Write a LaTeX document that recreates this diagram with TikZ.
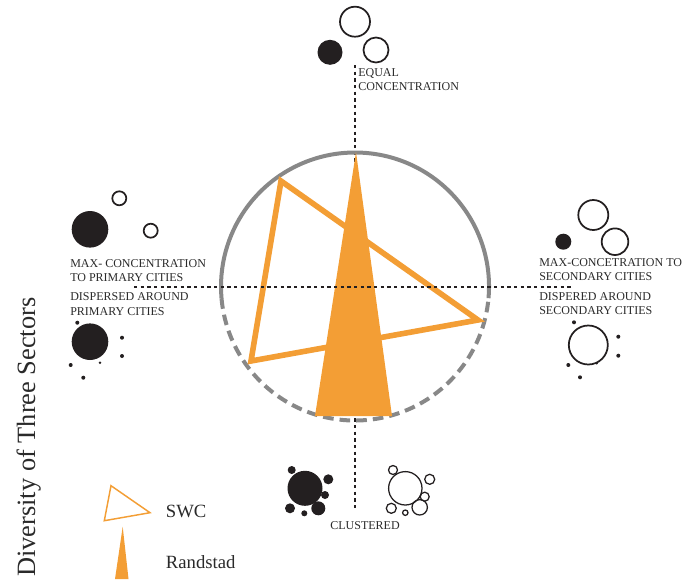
\documentclass[tikz,border=0pt]{standalone}
\usepackage{fontspec}
\setmainfont{Liberation Serif}
\definecolor{swcorange}{HTML}{F39E35}
\definecolor{ringgray}{HTML}{888888}
\definecolor{ink}{HTML}{231F20}
\definecolor{txtgray}{HTML}{2A2A2A}
\tikzset{
  lbl/.style={font=\fontsize{9}{10}\selectfont, text=txtgray, inner sep=0pt, anchor=base west},
  legendlbl/.style={font=\fontsize{14}{16}\selectfont, text=txtgray, inner sep=0pt, anchor=base west},
  dotline/.style={line width=2pt, dash pattern=on 2.5pt off 2.5pt, color=ink},
  ring/.style={draw=ringgray, line width=3pt},
  hollow/.style={draw=ink, line width=1.3pt},
  thinhollow/.style={draw=ink, line width=0.95pt},
  filled/.style={fill=ink},
  swcline/.style={draw=swcorange, line width=4.2pt, line join=miter},
  randfill/.style={fill=swcorange}
}
\begin{document}
\begin{tikzpicture}[x=0.75pt,y=0.75pt]
\path[use as bounding box] (0,0) rectangle (699,-579);
% axes coordinates
\coordinate (vtop) at (355,-65);
\coordinate (vbot) at (355,-510);
\coordinate (hleft) at (134,-287);
\coordinate (hright) at (572,-287);
\coordinate (C) at (355,-286.5);
% vertical dotted axis
\draw[dotline] (vtop) -- (vbot);
% ring
\draw[ring] ([shift={(-5:134)}]C) arc[start angle=-5, end angle=185, radius=134];
\draw[ring, dash pattern=on 8pt off 4.5pt] ([shift={(185:134)}]C) arc[start angle=185, end angle=355, radius=134];
% SWC triangle
\coordinate (s1) at (281,-181);
\coordinate (s2) at (478,-320);
\coordinate (s3) at (251,-361);
\draw[swcline] (s1) -- (s2) -- (s3) -- cycle;
% Randstad triangle
\coordinate (r1) at (356,-152);
\coordinate (r2) at (392,-416);
\coordinate (r3) at (315,-416);
\fill[randfill] (r1) -- (r2) -- (r3) -- cycle;
% horizontal dotted axis
\draw[dotline] (hleft) -- (hright);

% top group: equal concentration
\draw[hollow] (355,-21.7) circle[radius=15];
\draw[hollow] (376,-50) circle[radius=12.5];
\fill[filled] (330,-52.3) circle[radius=12.5];
\node[lbl] (eq1) at (358,-76) {EQUAL};
\node[lbl] (eq2) at (358,-90.7) {CONCENTRATION};

% left top group: max concentration to primary cities
\fill[filled] (90,-229.3) circle[radius=18.3];
\draw[hollow] (119.3,-198.3) circle[radius=7];
\draw[hollow] (150.7,-230.7) circle[radius=7];
\node[lbl] (lm1) at (70,-267.3) {MAX- CONCENTRATION};
\node[lbl] (lm2) at (70,-281.7) {TO PRIMARY CITIES};
\node[lbl] (ld1) at (70,-300.7) {DISPERSED AROUND};
\node[lbl] (ld2) at (70,-315) {PRIMARY CITIES};
% left bottom group: dispersed around primary
\fill[filled] (90,-341.7) circle[radius=18.3];
\fill[filled] (77.3,-322.7) circle[radius=2];
\fill[filled] (122,-337.7) circle[radius=2];
\fill[filled] (122,-356) circle[radius=2];
\fill[filled] (70.7,-365) circle[radius=2];
\fill[filled] (100,-362.7) circle[radius=1.3];
\fill[filled] (83.3,-377.7) circle[radius=2];

% right top group: max concentration to secondary cities
\draw[hollow] (593.3,-215) circle[radius=15];
\draw[hollow] (615,-241.7) circle[radius=13.3];
\fill[filled] (563.3,-241.7) circle[radius=8];
\node[lbl] (rm1) at (539,-266) {MAX-CONCETRATION TO};
\node[lbl] (rm2) at (539,-280.7) {SECONDARY CITIES};
\node[lbl] (rd1) at (539,-300) {DISPERED AROUND};
\node[lbl] (rd2) at (539,-314) {SECONDARY CITIES};
% right bottom group
\draw[hollow] (588.3,-345) circle[radius=19.5];
\fill[filled] (574,-322.3) circle[radius=2];
\fill[filled] (618.3,-336.7) circle[radius=2];
\fill[filled] (618.3,-355.7) circle[radius=2];
\fill[filled] (568.3,-365) circle[radius=2];
\fill[filled] (596.7,-363.3) circle[radius=1.3];
\fill[filled] (580,-377.3) circle[radius=2];

% bottom clustered groups
\fill[filled] (305,-488.3) circle[radius=17.5];
\fill[filled] (291.7,-470) circle[radius=4];
\fill[filled] (328.3,-479.3) circle[radius=5];
\fill[filled] (325,-495) circle[radius=4];
\fill[filled] (290,-508.3) circle[radius=5];
\fill[filled] (304.3,-513.3) circle[radius=3];
\fill[filled] (318.3,-508.3) circle[radius=7];

\draw[thinhollow] (405.3,-488.3) circle[radius=16.7];
\draw[thinhollow] (393,-470) circle[radius=4.5];
\draw[thinhollow] (429.7,-479.3) circle[radius=5];
\draw[thinhollow] (424.7,-496.7) circle[radius=4.5];
\draw[thinhollow] (391.3,-508.3) circle[radius=5];
\draw[thinhollow] (405.3,-512.7) circle[radius=2.7];
\draw[thinhollow] (419.7,-507.3) circle[radius=7.7];
\node[lbl, anchor=base] (cl) at (365,-529) {CLUSTERED};

% legend
\draw[draw=swcorange, line width=1.1pt, line join=miter] (111,-485.7) -- (150,-512.7) -- (104.3,-520.7) -- cycle;
\node[legendlbl] (swc) at (165.7,-517) {SWC};
\fill[randfill] (122.7,-526.7) -- (128.5,-579) -- (115,-579) -- cycle;
\node[legendlbl] (rand) at (165.7,-568) {Randstad};

% vertical axis title
\node[font=\fontsize{19.8}{22}\selectfont, text=txtgray, inner sep=0pt, rotate=90, anchor=base west] (title) at (35,-577) {Diversity of Three Sectors};
\end{tikzpicture}
\end{document}
